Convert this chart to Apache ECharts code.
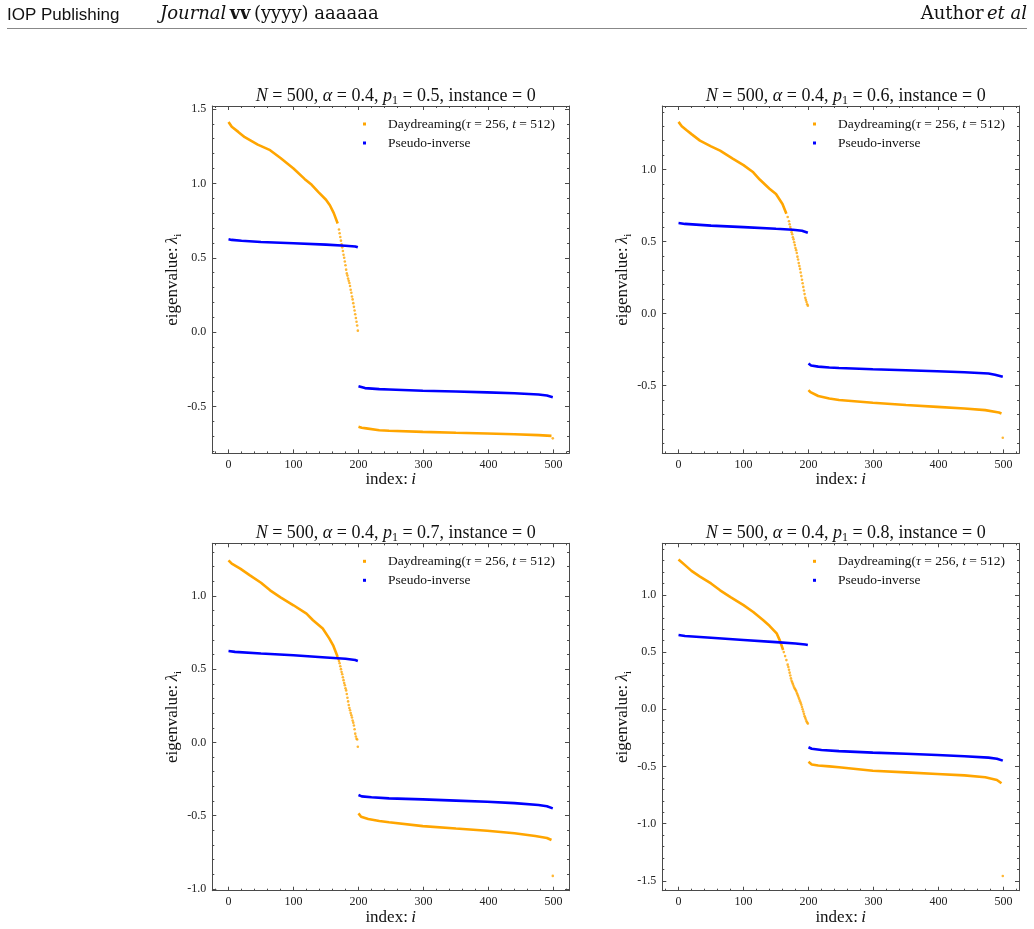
<!DOCTYPE html>
<html><head><meta charset="utf-8">
<script src="https://cdn.jsdelivr.net/npm/echarts@6/dist/echarts.min.js"></script>
<style>html,body{margin:0;padding:0;background:#fff}#c{width:1034px;height:929px}</style>
</head><body><div id="c"></div>
<script>
// ---------------- data ----------------
const pValues = ['0.5', '0.6', '0.7', '0.8'];
const DAY = 'Daydreaming(τ=256, t=512)';
const PINV = 'Pseudo-inverse';
const xTicks = [0, 100, 200, 300, 400, 500];
const xMinorTicks = [-20, 20, 40, 60, 80, 120, 140, 160, 180, 220, 240, 260, 280, 320, 340, 360, 380, 420, 440, 460, 480, 520];
const yTicksA = [-0.5, 0.0, 0.5, 1.0, 1.5];
const yTicksB = [-0.5, 0.0, 0.5, 1.0];
const yTicksC = [-1.0, -0.5, 0.0, 0.5, 1.0];
const yTicksD = [-1.5, -1.0, -0.5, 0.0, 0.5, 1.0];

// p1 = 0.5
const dayA_head = [[0,1.413],[5,1.38],[15,1.346],[25,1.31],[33,1.29],[45,1.26],[64,1.223],[80,1.17],[90,1.135],[100,1.10],[117,1.03],[128,0.99],[138,0.943],[150,0.89],[156,0.853],[162,0.80],[168,0.73]];
const dayA_drop = [[170,0.69],[171,0.665],[172,0.64],[173,0.615],[174,0.59],[175,0.57],[176,0.545],[177,0.52],[178,0.50],[179,0.475],[180,0.45],[181,0.42],[182,0.395],[183,0.38],[184,0.36],[185,0.345],[186,0.33],[187,0.31],[188,0.285],[189,0.265],[190,0.24],[191,0.22],[192,0.195],[193,0.17],[194,0.145],[195,0.12],[196,0.095],[197,0.07],[198,0.045],[199,0.01],[499,-0.714]];
const dayA_tail = [[200,-0.636],[205,-0.643],[212,-0.647],[232,-0.659],[247,-0.663],[299,-0.670],[350,-0.676],[398,-0.681],[440,-0.686],[477,-0.692],[497,-0.697]];
const pinvA_head = [[0,0.625],[5,0.620],[20,0.614],[50,0.606],[100,0.597],[150,0.588],[180,0.581],[195,0.576],[199,0.570]];
const pinvA_tail = [[200,-0.363],[203,-0.370],[210,-0.376],[232,-0.383],[247,-0.385],[299,-0.394],[350,-0.399],[398,-0.405],[440,-0.411],[477,-0.419],[490,-0.426],[499,-0.437]];

// p1 = 0.6
const dayB_head = [[0,1.33],[5,1.30],[13,1.27],[20,1.245],[33,1.20],[50,1.16],[64,1.13],[84,1.073],[100,1.03],[115,0.98],[125,0.93],[140,0.866],[150,0.83],[160,0.76],[166,0.692]];
const dayB_drop = [[168,0.67],[170,0.64],[171,0.62],[172,0.60],[173,0.585],[174,0.565],[175,0.55],[176,0.53],[177,0.515],[178,0.495],[179,0.475],[180,0.455],[181,0.44],[182,0.42],[183,0.395],[184,0.375],[185,0.35],[186,0.33],[187,0.31],[188,0.285],[189,0.26],[190,0.235],[191,0.21],[192,0.185],[193,0.16],[194,0.135],[195,0.11],[196,0.095],[197,0.08],[198,0.065],[199,0.055],[499,-0.861]];
const dayB_tail = [[200,-0.531],[203,-0.545],[205,-0.554],[215,-0.572],[232,-0.589],[247,-0.600],[299,-0.619],[350,-0.634],[398,-0.647],[440,-0.658],[472,-0.670],[493,-0.686],[497,-0.693]];
const pinvB_head = [[0,0.628],[10,0.622],[50,0.610],[100,0.600],[150,0.588],[176,0.582],[190,0.575],[199,0.561]];
const pinvB_tail = [[200,-0.346],[204,-0.360],[215,-0.368],[232,-0.374],[247,-0.378],[299,-0.386],[350,-0.393],[398,-0.400],[440,-0.407],[477,-0.416],[487,-0.424],[499,-0.439]];

// p1 = 0.7
const dayC_head = [[0,1.243],[5,1.22],[18,1.186],[33,1.14],[50,1.09],[64,1.038],[80,0.99],[100,0.936],[120,0.879],[130,0.834],[145,0.777],[155,0.71],[161,0.663],[168,0.583]];
const dayC_drop = [[169,0.57],[170,0.555],[171,0.54],[172,0.52],[173,0.50],[174,0.48],[175,0.465],[176,0.445],[177,0.425],[178,0.405],[179,0.39],[180,0.37],[181,0.355],[182,0.33],[183,0.305],[184,0.28],[185,0.255],[186,0.235],[187,0.22],[188,0.20],[189,0.185],[190,0.17],[191,0.15],[192,0.135],[193,0.115],[194,0.09],[195,0.06],[196,0.04],[197,0.025],[198,0.02],[199,-0.03],[499,-0.911]];
const dayC_tail = [[200,-0.484],[204,-0.507],[215,-0.522],[232,-0.536],[247,-0.545],[299,-0.571],[350,-0.588],[398,-0.603],[440,-0.620],[472,-0.639],[490,-0.652],[497,-0.666]];
const pinvC_head = [[0,0.624],[10,0.618],[50,0.607],[100,0.595],[150,0.580],[180,0.571],[195,0.562],[199,0.556]];
const pinvC_tail = [[200,-0.359],[205,-0.368],[220,-0.374],[247,-0.382],[299,-0.389],[350,-0.397],[398,-0.405],[440,-0.414],[477,-0.427],[490,-0.436],[499,-0.450]];

// p1 = 0.8
const dayD_head = [[0,1.31],[10,1.26],[20,1.21],[33,1.16],[50,1.10],[64,1.04],[80,0.98],[100,0.91],[115,0.85],[130,0.78],[140,0.73],[151,0.664],[156,0.60],[161,0.518]];
const dayD_drop = [[162,0.50],[164,0.465],[166,0.43],[168,0.39],[169,0.37],[170,0.345],[171,0.32],[172,0.295],[173,0.27],[174,0.25],[175,0.235],[176,0.22],[177,0.205],[178,0.19],[179,0.18],[180,0.17],[181,0.16],[182,0.145],[183,0.13],[184,0.115],[185,0.10],[186,0.085],[187,0.07],[188,0.055],[189,0.04],[190,0.02],[191,0.0],[192,-0.02],[193,-0.04],[194,-0.06],[195,-0.075],[196,-0.09],[197,-0.105],[198,-0.115],[199,-0.125],[499,-1.457]];
const dayD_tail = [[200,-0.458],[205,-0.482],[215,-0.491],[232,-0.499],[247,-0.507],[299,-0.537],[350,-0.552],[398,-0.566],[440,-0.578],[472,-0.594],[490,-0.618],[497,-0.647]];
const pinvD_head = [[0,0.649],[10,0.640],[50,0.625],[100,0.606],[150,0.587],[180,0.575],[195,0.566],[199,0.562]];
const pinvD_tail = [[200,-0.332],[205,-0.345],[220,-0.356],[247,-0.366],[299,-0.379],[350,-0.389],[398,-0.400],[440,-0.410],[477,-0.423],[490,-0.432],[499,-0.449]];

// ---------------- layout ----------------
const SERIF = "'Liberation Serif', 'DejaVu Serif', serif";
const HSERIF = "'DejaVu Serif', 'Liberation Serif', serif";
const ORANGE = '#FFA500', BLUE = '#0000FF';
const FRAME = '#4a4a4a';
const panels = [
  {left: 212.3, top: 106, yMin: -0.815, yMax: 1.52, yTicks: yTicksA, day: [dayA_head, dayA_tail], drop: dayA_drop, pinv: [pinvA_head, pinvA_tail]},
  {left: 662.3, top: 106, yMin: -0.97, yMax: 1.44, yTicks: yTicksB, day: [dayB_head, dayB_tail], drop: dayB_drop, pinv: [pinvB_head, pinvB_tail]},
  {left: 212.3, top: 543.3, yMin: -1.012, yMax: 1.359, yTicks: yTicksC, day: [dayC_head, dayC_tail], drop: dayC_drop, pinv: [pinvC_head, pinvC_tail]},
  {left: 662.3, top: 543.3, yMin: -1.586, yMax: 1.451, yTicks: yTicksD, day: [dayD_head, dayD_tail], drop: dayD_drop, pinv: [pinvD_head, pinvD_tail]}
];
const W = 356.7, H = 347.4;
const X_MIN = -24.95, X_MAX = 523.95;

function minorY(lo, hi, majors) {
  const out = [];
  for (let k = Math.ceil(lo * 10 - 1e-9); k <= Math.floor(hi * 10 + 1e-9); k++) {
    const v = k / 10;
    if (!majors.some(m => Math.abs(m - v) < 1e-9)) out.push(v);
  }
  return out;
}

const grid = [], xAxis = [], yAxis = [], series = [], title = [], legend = [];
const richBase = {
  t: {fontFamily: SERIF, fontSize: 17, color: '#111', fontWeight: 'normal'},
  i: {fontFamily: SERIF, fontSize: 17, fontStyle: 'italic', color: '#111', fontWeight: 'normal'},
  s: {fontFamily: SERIF, fontSize: 11, color: '#111', fontWeight: 'normal', verticalAlign: 'bottom', lineHeight: 22, padding: [8, 0, 0, 0]}
};
const richTitle = {
  t: {fontFamily: SERIF, fontSize: 18, color: '#111', fontWeight: 'normal'},
  i: {fontFamily: SERIF, fontSize: 18, fontStyle: 'italic', color: '#111', fontWeight: 'normal'},
  s: {fontFamily: SERIF, fontSize: 12, color: '#111', fontWeight: 'normal', verticalAlign: 'bottom', lineHeight: 22, padding: [8, 0, 0, 0]}
};

panels.forEach((p, g) => {
  grid.push({left: p.left, top: p.top, width: W, height: H, containLabel: false});
  const yMinor = minorY(p.yMin, p.yMax, p.yTicks);
  const lineSty = {color: FRAME, width: 1};
  const xBase = {gridIndex: g, type: 'value', min: X_MIN, max: X_MAX, splitLine: {show: false}};
  xAxis.push(Object.assign({}, xBase, {
    position: 'bottom',
    axisLine: {show: true, onZero: false, lineStyle: lineSty},
    axisTick: {show: true, inside: true, length: 4, lineStyle: lineSty, customValues: xTicks},
    axisLabel: {show: true, customValues: xTicks, fontFamily: SERIF, fontSize: 12, color: '#222', margin: 5},
    name: '{t|index:} {i|i}', nameLocation: 'middle', nameGap: 18,
    nameTextStyle: {rich: richBase}
  }));
  xAxis.push(Object.assign({}, xBase, {
    position: 'bottom', axisLine: {show: false, onZero: false},
    axisTick: {show: true, inside: true, length: 2, lineStyle: lineSty, customValues: xMinorTicks},
    axisLabel: {show: false}
  }));
  xAxis.push(Object.assign({}, xBase, {
    position: 'top', axisLine: {show: true, onZero: false, lineStyle: lineSty},
    axisTick: {show: true, inside: true, length: 4, lineStyle: lineSty, customValues: xTicks},
    axisLabel: {show: false}
  }));
  xAxis.push(Object.assign({}, xBase, {
    position: 'top', axisLine: {show: false, onZero: false},
    axisTick: {show: true, inside: true, length: 2, lineStyle: lineSty, customValues: xMinorTicks},
    axisLabel: {show: false}
  }));
  const yBase = {gridIndex: g, type: 'value', min: p.yMin, max: p.yMax, splitLine: {show: false}};
  yAxis.push(Object.assign({}, yBase, {
    position: 'left',
    axisLine: {show: true, onZero: false, lineStyle: lineSty},
    axisTick: {show: true, inside: true, length: 4, lineStyle: lineSty, customValues: p.yTicks},
    axisLabel: {show: true, customValues: p.yTicks, formatter: v => v.toFixed(1), fontFamily: SERIF, fontSize: 12, color: '#222', margin: 6},
    name: '{t|eigenvalue:} {i|λ}{s|i}', nameLocation: 'middle', nameGap: 27,
    nameTextStyle: {rich: richBase}
  }));
  yAxis.push(Object.assign({}, yBase, {
    position: 'left', axisLine: {show: false, onZero: false},
    axisTick: {show: true, inside: true, length: 2, lineStyle: lineSty, customValues: yMinor},
    axisLabel: {show: false}
  }));
  yAxis.push(Object.assign({}, yBase, {
    position: 'right', axisLine: {show: true, onZero: false, lineStyle: lineSty},
    axisTick: {show: true, inside: true, length: 4, lineStyle: lineSty, customValues: p.yTicks},
    axisLabel: {show: false}
  }));
  yAxis.push(Object.assign({}, yBase, {
    position: 'right', axisLine: {show: false, onZero: false},
    axisTick: {show: true, inside: true, length: 2, lineStyle: lineSty, customValues: yMinor},
    axisLabel: {show: false}
  }));
  const xi = g * 4, yi = g * 4;
  p.day.forEach(seg => series.push({
    name: DAY, type: 'line', xAxisIndex: xi, yAxisIndex: yi, data: seg,
    showSymbol: false, symbol: 'none', color: ORANGE, lineStyle: {color: ORANGE, width: 2.6}, silent: true, animation: false
  }));
  series.push({
    name: DAY, type: 'scatter', xAxisIndex: xi, yAxisIndex: yi, data: p.drop,
    symbol: 'circle', symbolSize: 2.6, itemStyle: {color: ORANGE}, silent: true, animation: false
  });
  p.pinv.forEach(seg => series.push({
    name: PINV, type: 'line', xAxisIndex: xi, yAxisIndex: yi, data: seg,
    showSymbol: false, symbol: 'none', color: BLUE, lineStyle: {color: BLUE, width: 2.6}, silent: true, animation: false
  }));
  title.push({
    text: '{i|N}{t| = 500, }{i|α}{t| = 0.4, }{i|p}{s|1}{t| = ' + pValues[g] + ', instance = 0}',
    left: p.left + W / 2, top: p.top - 26, textAlign: 'center',
    textStyle: {fontFamily: SERIF, fontWeight: 'normal', fontSize: 18, color: '#111', rich: richTitle}
  });
  legend.push({
    left: p.left + 145.7, top: p.top + 6, orient: 'vertical', selectedMode: false,
    itemWidth: 3, itemHeight: 3, itemGap: 5,
    data: [{name: DAY, icon: 'rect'}, {name: PINV, icon: 'rect'}],
    formatter: n => n === DAY ? '{t|Daydreaming(}{i|τ}{t| = 256, }{i|t}{t| = 512)}' : '{t|Pseudo-inverse}',
    textStyle: {padding: [0, 0, 0, 17], lineHeight: 14, rich: {
      t: {fontFamily: SERIF, fontSize: 13.5, color: '#111'},
      i: {fontFamily: SERIF, fontSize: 13.5, fontStyle: 'italic', color: '#111'}
    }}
  });
});

const chart = echarts.init(document.getElementById('c'), null, {renderer: 'canvas'});
chart.setOption({
  animation: false,
  backgroundColor: '#fff',
  grid, xAxis, yAxis, series, title, legend,
  graphic: [
    {type: 'text', left: 7, top: 7, style: {text: 'IOP Publishing', font: "17px 'Liberation Sans', 'DejaVu Sans', sans-serif", fill: '#111'}},
    {type: 'text', left: 160, top: 5, style: {
      text: '{i|Journal} {b|vv} {t|(yyyy) aaaaaa}',
      rich: {
        i: {fontFamily: HSERIF, fontSize: 18, fontStyle: 'italic', fill: '#111'},
        b: {fontFamily: HSERIF, fontSize: 18, fontWeight: 'bold', fill: '#111'},
        t: {fontFamily: HSERIF, fontSize: 18, fill: '#111'}
      }}},
    {type: 'text', right: 7, top: 5, style: {
      text: '{t|Author} {i|et al}',
      rich: {
        i: {fontFamily: HSERIF, fontSize: 18, fontStyle: 'italic', fill: '#111'},
        t: {fontFamily: HSERIF, fontSize: 18, fill: '#111'}
      }}},
    {type: 'line', shape: {x1: 7, y1: 28.5, x2: 1027, y2: 28.5}, style: {stroke: '#888', lineWidth: 1}}
  ]
});
</script>
</body></html>
